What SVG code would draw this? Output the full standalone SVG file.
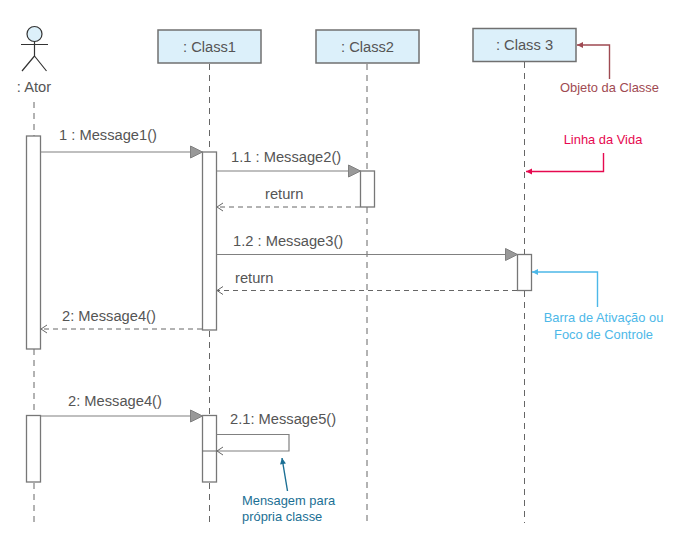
<svg xmlns="http://www.w3.org/2000/svg" width="688" height="547" viewBox="0 0 688 547">
<defs>
<marker id="tri" markerUnits="userSpaceOnUse" markerWidth="13" markerHeight="14" refX="12" refY="6" orient="auto" overflow="visible"><path d="M0 0L12 6L0 12Z" fill="#999" stroke="#808080" stroke-width="1"/></marker>
<marker id="open" markerUnits="userSpaceOnUse" markerWidth="8" markerHeight="10" refX="6" refY="4" orient="auto" overflow="visible"><path d="M0 0L6 4L0 8" fill="none" stroke="#666" stroke-width="1"/></marker>
<marker id="red" markerUnits="userSpaceOnUse" markerWidth="8" markerHeight="8" refX="6" refY="3" orient="auto" overflow="visible"><path d="M0 0L6 3L0 6Z" fill="#9f4a52"/></marker>
<marker id="pink" markerUnits="userSpaceOnUse" markerWidth="8" markerHeight="8" refX="6" refY="3" orient="auto" overflow="visible"><path d="M0 0L6 3L0 6Z" fill="#e6094f"/></marker>
<marker id="blue" markerUnits="userSpaceOnUse" markerWidth="8" markerHeight="8" refX="6" refY="3" orient="auto" overflow="visible"><path d="M0 0L6 3L0 6Z" fill="#4db8e8"/></marker>
<marker id="teal" markerUnits="userSpaceOnUse" markerWidth="8" markerHeight="8" refX="6" refY="3" orient="auto" overflow="visible"><path d="M0 0L6 3L0 6Z" fill="#1b6f94"/></marker>
</defs>
<style>
text{font-family:"Liberation Sans",Arial,sans-serif;font-size:14.7px;fill:#555}
.m{text-anchor:middle}
.box{fill:#dcf0fa;stroke:#707070;stroke-width:1.5}
.bar{fill:#fff;stroke:#777;stroke-width:1.3}
.life{stroke:#666;stroke-width:1;stroke-dasharray:6 5;fill:none}
.msg{stroke:#808080;stroke-width:1.2;fill:none}
.ret{stroke:#666;stroke-width:1;stroke-dasharray:5 4;fill:none}
.note{font-size:12.9px}
</style>
<rect width="688" height="547" fill="#fff"/>
<g id="lifelines">
<path class="life" d="M34 102V136M34 349V415M34 483V523"/>
<path class="life" d="M209.500 64V152M209.500 331V415M209.500 483V523"/>
<path class="life" d="M367 64V171M367 207V523"/>
<path class="life" d="M524.500 62V254M524.500 291V523"/>
</g>
<g id="actor-ator" fill="none" stroke="#333" stroke-width="1.2">
<circle cx="34.500" cy="34" r="7.500" fill="#dcf0fa"/>
<path d="M34.500 41.500V56M21 44.500H48M34.500 56L22 71M34.500 56L46.500 71"/>
<text class="m" x="34" y="92" stroke="none">: Ator</text>
</g>
<g id="node-class1"><rect class="box" x="158" y="30" width="103" height="33"/><text class="m" x="209.500" y="52">: Class1</text></g>
<g id="node-class2"><rect class="box" x="316" y="30" width="103" height="33"/><text class="m" x="367.500" y="52">: Class2</text></g>
<g id="node-class3"><rect class="box" x="473" y="28.500" width="103" height="33"/><text class="m" x="524.500" y="50">: Class 3</text></g>
<g id="bars">
<rect class="bar" x="26.500" y="136" width="14" height="213"/>
<rect class="bar" x="202.500" y="152" width="14" height="178"/>
<rect class="bar" x="360.500" y="171" width="14" height="36"/>
<rect class="bar" x="517.500" y="254.500" width="14" height="36"/>
<rect class="bar" x="26.500" y="415.500" width="14" height="66.500"/>
<rect class="bar" x="202.500" y="415.500" width="14" height="66.500"/>
</g>
<g id="connectors">
<path class="msg" d="M40.500 152H202.500" marker-end="url(#tri)"/>
<path class="msg" d="M216.500 171H360.500" marker-end="url(#tri)"/>
<path class="ret" d="M360 207H217" marker-end="url(#open)"/>
<path class="msg" d="M216.500 254.500H517.500" marker-end="url(#tri)"/>
<path class="ret" d="M517 290.500H217" marker-end="url(#open)"/>
<path class="ret" d="M202 329H41" marker-end="url(#open)"/>
<path class="msg" d="M40.500 416H202.500" marker-end="url(#tri)"/>
<path class="msg" d="M216.500 434.500H289V451H217" marker-end="url(#open)"/>
<path d="M202.500 451H216.500" stroke="#666" fill="none"/>
<path d="M609.500 79V45H577" fill="none" stroke="#9f4a52" stroke-width="1.4" marker-end="url(#red)"/>
<path d="M603.500 153V171.500H526" fill="none" stroke="#e6094f" stroke-width="1.4" marker-end="url(#pink)"/>
<path d="M597.500 307V272H532" fill="none" stroke="#4db8e8" stroke-width="1.4" marker-end="url(#blue)"/>
<path d="M287.500 491L282 458" fill="none" stroke="#1b6f94" stroke-width="1.4" marker-end="url(#teal)"/>
</g>
<g id="labels">
<text x="59" y="140">1 : Message1()</text>
<text x="231" y="162">1.1 : Message2()</text>
<text x="265" y="199">return</text>
<text x="233" y="246">1.2 : Message3()</text>
<text x="235" y="283">return</text>
<text x="62" y="321">2: Message4()</text>
<text x="68" y="406">2: Message4()</text>
<text x="230" y="424">2.1: Message5()</text>
<text class="note m" x="609.500" y="92" style="fill:#9f4a52">Objeto da Classe</text>
<text class="note m" x="603" y="144" style="fill:#e6094f">Linha da Vida</text>
<text class="note m" x="603.500" y="322" style="fill:#4db8e8">Barra de Ativação ou</text>
<text class="note m" x="603.500" y="339" style="fill:#4db8e8">Foco de Controle</text>
<text class="note" x="242" y="505" style="fill:#1b6f94">Mensagem para</text>
<text class="note" x="242" y="521" style="fill:#1b6f94">própria classe</text>
</g>
</svg>
